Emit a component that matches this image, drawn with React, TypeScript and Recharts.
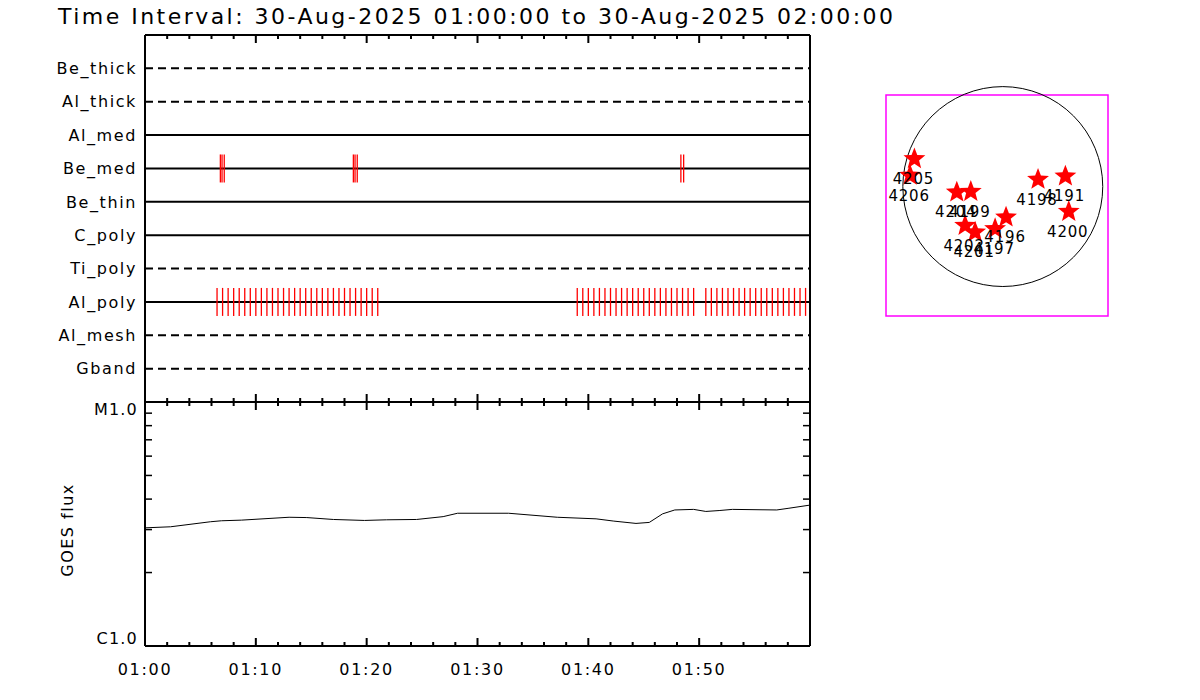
import React from 'react';
import {
  ComposedChart,
  ScatterChart,
  Scatter,
  Line,
  XAxis,
  YAxis,
  ReferenceLine,
  ReferenceDot,
  ReferenceArea,
} from 'recharts';

const title = 'Time Interval: 30-Aug-2025 01:00:00 to 30-Aug-2025 02:00:00';

// filter rows, top to bottom
const filterNames = ['Be_thick', 'Al_thick', 'Al_med', 'Be_med', 'Be_thin', 'C_poly', 'Ti_poly', 'Al_poly', 'Al_mesh', 'Gband'];
const filtersUsed = ['Al_med', 'Be_med', 'Be_thin', 'C_poly', 'Al_poly'];

// exposure times, minutes after 01:00
const beMedTimes = [6.8, 6.95, 7.15, 18.8, 18.95, 19.15, 48.35, 48.6];
const alPolyTimes = [
  6.5, 7.0, 7.5, 8.0, 8.5, 9.0, 9.5, 10.0, 10.5, 11.0, 11.5, 12.0, 12.5, 13.0, 13.5,
  14.0, 14.5, 15.0, 15.5, 16.0, 16.5, 17.0, 17.5, 18.0, 18.5, 19.0, 19.5, 20.0, 20.5, 21.0,
  39.0, 39.5, 40.0, 40.5, 41.0, 41.5, 42.0, 42.5, 43.0, 43.5, 44.0, 44.5, 45.0, 45.5,
  46.0, 46.5, 47.0, 47.5, 48.0, 48.5, 49.0, 49.5,
  50.6, 51.1, 51.6, 52.1, 52.6, 53.1, 53.6, 54.1, 54.6, 55.1, 55.6, 56.1, 56.6, 57.1,
  57.6, 58.1, 58.6, 59.1, 59.6,
];

// GOES flux (W/m^2)
const goesTimes = [0, 2.3, 5.9, 6.9, 8.7, 13, 14.6, 17, 19.8, 21.8, 24.5, 26.9, 28.2, 32.8, 37.2, 40.7, 42.3, 44.3, 45.5, 46.7, 47.8, 49.5, 50.6, 51.8, 53, 57, 58.1, 60];
const goesFlux = [
  3.05e-6, 3.08e-6, 3.23e-6, 3.26e-6, 3.28e-6, 3.37e-6, 3.36e-6, 3.3e-6, 3.27e-6, 3.29e-6,
  3.3e-6, 3.39e-6, 3.5e-6, 3.5e-6, 3.37e-6, 3.32e-6, 3.25e-6, 3.18e-6, 3.21e-6, 3.48e-6,
  3.61e-6, 3.63e-6, 3.56e-6, 3.59e-6, 3.63e-6, 3.61e-6, 3.67e-6, 3.78e-6,
];

const timeTicks = [0, 2, 4, 6, 8, 10, 12, 14, 16, 18, 20, 22, 24, 26, 28, 30, 32, 34, 36, 38, 40, 42, 44, 46, 48, 50, 52, 54, 56, 58];
const timeLabels = ['01:00', '01:10', '01:20', '01:30', '01:40', '01:50'];
const fluxTicks = [1e-6, 2e-6, 3e-6, 4e-6, 5e-6, 6e-6, 7e-6, 8e-6, 9e-6, 1e-5];
const fluxLabels = ['C1.0', 'M1.0'];

// active regions on the disk (arcsec)
const arNumbers = ['4205', '4206', '4204', '4199', '4202', '4201', '4197', '4196', '4198', '4191', '4200'];
const arX = [-840, -881, -437, -304, -358, -263, -73, 31, 335, 595, 627];
const arY = [263, 105, -54, -48, -371, -434, -402, -292, 67, 98, -238];
const solarRadius = 950;
const mapX = [-1110, 1000];
const mapY = [-1230, 870];

const FONT = "'DejaVu Sans', sans-serif";

const rowValue = (name: string) => filterNames.length - filterNames.indexOf(name);

const marks = [
  ...beMedTimes.map((t) => ({ t, row: rowValue('Be_med') })),
  ...alPolyTimes.map((t) => ({ t, row: rowValue('Al_poly') })),
];

const goesData = goesTimes.map((t, i) => ({ t, flux: goesFlux[i] }));
const arData = arNumbers.map((n, i) => ({ x: arX[i], y: arY[i], name: n }));

const TimeTick = (props: any) => {
  const { x, y, payload, dir, labels } = props;
  const v = payload.value;
  const major = v % 10 === 0;
  const len = major ? 8 : 4;
  return (
    <g>
      {v > 0 && <line x1={x} x2={x} y1={y} y2={y + dir * len} stroke="#000" strokeWidth={2} />}
      {labels && major && (
        <text x={x} y={y + 29} textAnchor="middle" fontFamily={FONT} fontSize={16} letterSpacing={1.7} fill="#000">
          {timeLabels[v / 10]}
        </text>
      )}
    </g>
  );
};

const RowTick = (props: any) => {
  const { x, y, payload } = props;
  const name = filterNames[filterNames.length - payload.value];
  return (
    <text x={x - 8} y={y} dy="0.36em" textAnchor="end" fontFamily={FONT} fontSize={16} letterSpacing={1.6} fill="#000">
      {name}
    </text>
  );
};

const FluxTick = (props: any) => {
  const { x, y, payload, dir, labels } = props;
  const v = payload.value;
  const edge = v === fluxTicks[0] || v === fluxTicks[fluxTicks.length - 1];
  return (
    <g>
      {!edge && <line x1={x} x2={x + dir * 7} y1={y} y2={y} stroke="#000" strokeWidth={1.5} />}
      {labels && edge && (
        <text
          x={x - 7}
          y={v === fluxTicks[0] ? y - 2 : y + 13}
          textAnchor="end"
          fontFamily={FONT}
          fontSize={16}
          letterSpacing={1.2}
          fill="#000"
        >
          {v === fluxTicks[0] ? fluxLabels[0] : fluxLabels[1]}
        </text>
      )}
    </g>
  );
};

const MarkShape = (props: any) => {
  const { cx, cy } = props;
  return <line x1={cx} x2={cx} y1={cy - 14} y2={cy + 14} stroke="#ff0000" strokeWidth={1.3} />;
};

const StarShape = (props: any) => {
  const { cx, cy } = props;
  const pts: string[] = [];
  for (let k = 0; k < 10; k++) {
    const r = k % 2 === 0 ? 11.5 : 4.9;
    const a = -Math.PI / 2 + (k * Math.PI) / 5;
    pts.push(`${cx + r * Math.cos(a)},${cy + r * Math.sin(a)}`);
  }
  return <polygon points={pts.join(' ')} fill="#ff0000" stroke="none" />;
};

const ArLabel = (props: any) => {
  const { cx, cy, payload } = props;
  return (
    <text x={cx - 1} y={cy + 25} textAnchor="middle" fontFamily={FONT} fontSize={15} letterSpacing={0.8} fill="#000">
      {payload.name}
    </text>
  );
};

const axisLine = { stroke: '#000', strokeWidth: 2 };
const layer: React.CSSProperties = { position: 'absolute', left: 0, top: 0 };

// shared settings for the time axes (1px wide axis boxes so they still render)
const timeAxis = {
  type: 'number' as const,
  dataKey: 't',
  domain: [0, 60],
  ticks: timeTicks,
  interval: 0,
  height: 1,
  tickSize: 0,
  tickMargin: 0,
  tickLine: false,
  axisLine,
};

export default function App() {
  const mapW = 1108 - 886;
  const diskR = (solarRadius * mapW) / (mapX[1] - mapX[0]);
  return (
    <div style={{ position: 'absolute', left: 0, top: 0, width: 1200, height: 700, background: '#fff', overflow: 'hidden' }}>
      {/* filter timeline panel */}
      <div style={layer}>
        <ComposedChart width={1200} height={700} data={marks} margin={{ top: 34, right: 390, bottom: 297, left: 144 }}>
          <XAxis xAxisId="top" orientation="top" {...timeAxis} tick={(p: any) => <TimeTick {...p} dir={1} />} />
          <XAxis xAxisId="bottom" orientation="bottom" {...timeAxis} tick={(p: any) => <TimeTick {...p} dir={-1} />} />
          <YAxis
            yAxisId="rows"
            type="number"
            dataKey="row"
            domain={[0, 11]}
            ticks={[1, 2, 3, 4, 5, 6, 7, 8, 9, 10]}
            interval={0}
            width={1}
            tickSize={0}
            tickMargin={0}
            tickLine={false}
            axisLine={axisLine}
            tick={(p: any) => <RowTick {...p} />}
          />
          <Scatter xAxisId="top" yAxisId="rows" data={marks} dataKey="row" shape={MarkShape} isAnimationActive={false} />
          {filterNames.map((name) => (
            <ReferenceLine
              key={name}
              xAxisId="top"
              yAxisId="rows"
              y={rowValue(name)}
              stroke="#000"
              strokeWidth={2}
              strokeDasharray={filtersUsed.includes(name) ? undefined : '8 5'}
            />
          ))}
          <ReferenceLine xAxisId="top" yAxisId="rows" x={60} stroke="#000" strokeWidth={2} />
        </ComposedChart>
      </div>

      {/* GOES panel */}
      <div style={layer}>
        <ComposedChart width={1200} height={700} data={goesData} margin={{ top: 401, right: 389, bottom: 53, left: 144 }}>
          <XAxis xAxisId="top" orientation="top" {...timeAxis} tick={(p: any) => <TimeTick {...p} dir={1} />} />
          <XAxis xAxisId="bottom" orientation="bottom" {...timeAxis} tick={(p: any) => <TimeTick {...p} dir={-1} labels />} />
          <YAxis
            yAxisId="flux"
            type="number"
            scale="log"
            domain={[1e-6, 1e-5]}
            allowDataOverflow
            ticks={fluxTicks}
            interval={0}
            width={1}
            tickSize={0}
            tickMargin={0}
            tickLine={false}
            axisLine={axisLine}
            tick={(p: any) => <FluxTick {...p} dir={1} labels />}
          />
          <YAxis
            yAxisId="fluxR"
            orientation="right"
            type="number"
            scale="log"
            domain={[1e-6, 1e-5]}
            allowDataOverflow
            ticks={fluxTicks}
            interval={0}
            width={1}
            tickSize={0}
            tickMargin={0}
            tickLine={false}
            axisLine={axisLine}
            tick={(p: any) => <FluxTick {...p} dir={-1} />}
          />
          <Line
            xAxisId="bottom"
            yAxisId="flux"
            type="linear"
            dataKey="flux"
            stroke="#000"
            strokeWidth={1}
            dot={false}
            isAnimationActive={false}
          />
        </ComposedChart>
      </div>

      {/* solar disk map */}
      <div style={layer}>
        <ScatterChart width={1200} height={700} margin={{ top: 95, right: 92, bottom: 384, left: 886 }}>
          <XAxis type="number" dataKey="x" domain={mapX} hide />
          <YAxis type="number" dataKey="y" domain={mapY} hide />
          <ReferenceArea x1={mapX[0]} x2={mapX[1]} y1={mapY[0]} y2={mapY[1]} fill="none" stroke="#ff00ff" strokeWidth={1.5} />
          <ReferenceDot x={0} y={0} r={diskR} fill="none" stroke="#000" strokeWidth={1} />
          <Scatter data={arData} shape={StarShape} isAnimationActive={false} />
          <Scatter data={arData} shape={ArLabel} isAnimationActive={false} />
        </ScatterChart>
      </div>

      {/* title and y label */}
      <svg width={1200} height={700} style={{ ...layer, pointerEvents: 'none' }}>
        <text x={58} y={24} fontFamily={FONT} fontSize={22} textLength={835} lengthAdjust="spacing" fill="#000">
          {title}
        </text>
        <text
          x={67}
          y={530}
          transform="rotate(-90 67 530)"
          dy="0.36em"
          textAnchor="middle"
          fontFamily={FONT}
          fontSize={16}
          letterSpacing={1.5}
          fill="#000"
        >
          GOES flux
        </text>
      </svg>
    </div>
  );
}
